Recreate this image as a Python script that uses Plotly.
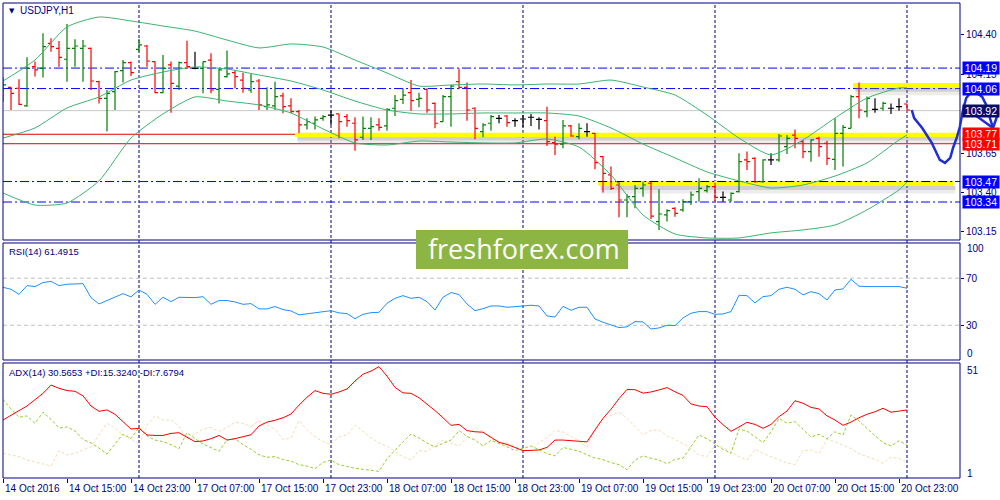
import plotly.graph_objects as go

# USDJPY H1, 14 Oct 07:00 .. 21 Oct 00:00 (one value per hourly bar)
symbol = "USDJPY,H1"
time_ticks = [0, 8, 16, 24, 32, 40, 48, 56, 64, 72, 80, 88, 96, 104, 112]
time_labels = ["14 Oct 2016", "14 Oct 15:00", "14 Oct 23:00", "17 Oct 07:00", "17 Oct 15:00",
               "17 Oct 23:00", "18 Oct 07:00", "18 Oct 15:00", "18 Oct 23:00", "19 Oct 07:00",
               "19 Oct 15:00", "19 Oct 23:00", "20 Oct 07:00", "20 Oct 15:00", "20 Oct 23:00"]
day_breaks = [17, 41, 65, 89, 113]

bar_open = [104.009, 104.068, 104.062, 103.950, 104.199, 104.188, 104.347, 104.315, 104.246, 104.315,
            104.315, 104.315, 104.104, 103.998, 104.040, 104.174, 104.224, 104.309, 104.330, 104.231,
            104.034, 104.210, 104.076, 104.224, 104.188, 104.188, 104.241, 104.055, 104.136, 104.161,
            104.114, 104.051, 104.108, 103.945, 103.950, 104.013, 103.950, 103.914, 103.829, 103.840,
            103.871, 103.892, 103.899, 103.882, 103.840, 103.751, 103.808, 103.829, 103.823, 103.935,
            103.992, 104.034, 103.992, 104.055, 103.966, 103.850, 104.009, 104.104, 104.068, 103.935,
            103.787, 103.840, 103.871, 103.886, 103.856, 103.867, 103.878, 103.865, 103.856, 103.717,
            103.708, 103.823, 103.755, 103.787, 103.776, 103.628, 103.512, 103.448, 103.353, 103.374,
            103.427, 103.459, 103.216, 103.258, 103.300, 103.290, 103.342, 103.406, 103.412, 103.438,
            103.370, 103.353, 103.406, 103.607, 103.617, 103.469, 103.607, 103.607, 103.691, 103.765,
            103.723, 103.660, 103.744, 103.713, 103.611, 103.776, 103.808, 104.009, 103.914, 103.928,
            103.935, 103.935, 103.945, 103.962]
bar_high = [104.131, 104.068, 104.119, 104.258, 104.231, 104.411, 104.379, 104.362, 104.470, 104.373,
            104.368, 104.320, 104.110, 104.051, 104.172, 104.241, 104.231, 104.375, 104.337, 104.231,
            104.273, 104.231, 104.231, 104.364, 104.294, 104.231, 104.284, 104.188, 104.301, 104.174,
            104.161, 104.153, 104.121, 104.068, 104.104, 104.034, 103.998, 103.924, 103.871, 103.882,
            103.892, 103.924, 103.899, 103.899, 103.878, 103.882, 103.878, 103.871, 103.935, 104.019,
            104.062, 104.114, 104.034, 104.062, 103.971, 104.019, 104.083, 104.188, 104.098, 103.941,
            103.840, 103.892, 103.892, 103.892, 103.871, 103.892, 103.899, 103.878, 103.945, 103.755,
            103.861, 103.829, 103.840, 103.840, 103.776, 103.632, 103.565, 103.469, 103.391, 103.448,
            103.469, 103.469, 103.421, 103.294, 103.307, 103.357, 103.406, 103.491, 103.448, 103.463,
            103.406, 103.400, 103.649, 103.660, 103.624, 103.611, 103.649, 103.772, 103.765, 103.801,
            103.734, 103.738, 103.755, 103.729, 103.871, 103.829, 104.019, 104.098, 104.009, 103.998,
            103.977, 103.966, 103.998, 103.962]
bar_low = [103.977, 103.924, 103.956, 103.945, 104.136, 104.131, 104.294, 104.199, 104.104, 104.199,
           104.104, 104.051, 103.966, 103.787, 103.924, 104.098, 104.140, 104.294, 104.199, 104.030,
           104.030, 103.907, 104.051, 104.184, 104.182, 104.030, 104.030, 103.966, 104.131, 104.062,
           104.034, 104.034, 103.924, 103.924, 103.924, 103.903, 103.903, 103.776, 103.801, 103.801,
           103.856, 103.829, 103.744, 103.818, 103.666, 103.734, 103.734, 103.793, 103.793, 103.886,
           103.962, 103.920, 103.941, 103.907, 103.808, 103.850, 103.818, 104.055, 103.856, 103.738,
           103.751, 103.793, 103.840, 103.818, 103.818, 103.814, 103.823, 103.801, 103.696, 103.639,
           103.681, 103.755, 103.738, 103.755, 103.548, 103.400, 103.417, 103.243, 103.243, 103.300,
           103.374, 103.232, 103.163, 103.216, 103.247, 103.279, 103.321, 103.342, 103.400, 103.342,
           103.342, 103.342, 103.400, 103.543, 103.463, 103.463, 103.575, 103.596, 103.645, 103.681,
           103.617, 103.596, 103.628, 103.575, 103.543, 103.565, 103.808, 103.871, 103.878, 103.907,
           103.920, 103.899, 103.920, 103.920]
bar_close = [104.083, 104.030, 103.960, 104.188, 104.178, 104.326, 104.326, 104.258, 104.315, 104.330,
             104.330, 104.108, 103.998, 104.030, 104.167, 104.224, 104.161, 104.337, 104.235, 104.034,
             104.188, 104.093, 104.224, 104.199, 104.188, 104.231, 104.051, 104.178, 104.153, 104.136,
             104.062, 104.104, 103.956, 103.956, 104.009, 103.945, 103.914, 103.829, 103.850, 103.861,
             103.882, 103.892, 103.850, 103.856, 103.734, 103.808, 103.818, 103.814, 103.928, 103.983,
             104.019, 103.983, 103.998, 103.924, 103.840, 104.009, 104.076, 104.068, 103.924, 103.808,
             103.829, 103.882, 103.871, 103.844, 103.856, 103.867, 103.878, 103.865, 103.723, 103.708,
             103.823, 103.759, 103.808, 103.787, 103.590, 103.522, 103.427, 103.353, 103.374, 103.427,
             103.448, 103.251, 103.264, 103.285, 103.268, 103.342, 103.385, 103.427, 103.438, 103.370,
             103.370, 103.395, 103.596, 103.596, 103.469, 103.607, 103.607, 103.759, 103.744, 103.744,
             103.660, 103.734, 103.691, 103.617, 103.776, 103.814, 104.009, 103.924, 103.998, 103.928,
             103.966, 103.935, 103.945, 103.924]

# bollinger bands, read every 4th bar
band_x = [0, 4, 8, 12, 16, 20, 24, 28, 32, 36, 40, 44, 48, 52, 56, 60, 64, 68, 72, 76,
          80, 84, 88, 92, 96, 100, 104, 108, 112, 113]
bb_upper = [104.108, 104.241, 104.451, 104.514, 104.489, 104.457, 104.425, 104.368, 104.318, 104.343,
            104.324, 104.241, 104.159, 104.076, 104.083, 104.089, 104.083, 104.089, 104.089, 104.114,
            104.070, 104.019, 103.892, 103.746, 103.639, 103.734, 103.873, 104.000, 104.064, 104.064]
bb_mid = [103.746, 103.810, 103.937, 104.007, 104.114, 104.165, 104.197, 104.184, 104.146, 104.108,
          104.051, 103.981, 103.924, 103.899, 103.899, 103.905, 103.905, 103.905, 103.886, 103.810,
          103.708, 103.620, 103.531, 103.474, 103.429, 103.448, 103.505, 103.588, 103.734, 103.765]
bb_lower = [103.397, 103.321, 103.334, 103.474, 103.746, 103.899, 104.007, 103.981, 103.956, 103.905,
            103.804, 103.715, 103.702, 103.727, 103.721, 103.715, 103.715, 103.740, 103.689, 103.512,
            103.258, 103.137, 103.112, 103.112, 103.144, 103.163, 103.194, 103.290, 103.417, 103.467]

rsi = [62.3, 60.6, 56.3, 63.7, 62.9, 66.3, 67.4, 63.7, 64.9, 65.4,
       65.4, 53.5, 48.1, 51.0, 54.3, 56.9, 54.1, 60.0, 56.3, 47.8,
       53.8, 50.1, 53.8, 53.5, 53.5, 54.3, 47.8, 51.0, 51.0, 49.8,
       47.8, 48.4, 43.9, 43.9, 45.9, 43.3, 42.2, 38.8, 39.6, 40.5,
       41.3, 42.4, 40.5, 39.9, 35.6, 39.3, 40.7, 41.0, 48.7, 52.9,
       55.2, 52.9, 53.8, 50.1, 43.0, 53.8, 57.8, 56.1, 48.1, 42.4,
       44.1, 46.4, 46.4, 45.3, 45.8, 46.4, 47.0, 46.4, 37.9, 37.0,
       46.1, 42.7, 45.3, 45.3, 35.3, 32.5, 30.0, 28.0, 28.6, 33.1,
       32.8, 26.8, 27.7, 30.0, 29.7, 36.2, 40.2, 41.6, 41.6, 39.3,
       39.6, 41.6, 55.5, 55.2, 49.0, 54.3, 55.2, 60.6, 62.3, 60.6,
       55.8, 58.6, 56.9, 51.5, 60.0, 60.9, 69.1, 63.2, 62.9, 62.9,
       62.9, 62.3, 62.9, 61.49]

adx = [26.2, 28.4, 30.3, 32.3, 34.9, 37.8, 41.4, 40.0, 39.0, 38.7,
       36.7, 32.3, 30.0, 30.6, 28.7, 25.5, 22.3, 22.6, 19.7, 19.5,
       19.5, 20.4, 20.7, 18.7, 16.8, 17.1, 18.1, 19.5, 17.5, 18.1,
       18.8, 19.8, 23.6, 25.3, 26.1, 27.2, 28.8, 32.7, 36.1, 39.0,
       37.8, 37.4, 38.4, 39.7, 43.2, 46.1, 47.5, 49.4, 45.3, 40.4,
       38.0, 37.8, 35.9, 33.3, 30.3, 27.2, 23.9, 24.3, 21.6, 21.1,
       20.9, 18.7, 16.5, 15.6, 14.3, 12.9, 13.0, 13.2, 14.3, 17.5,
       17.5, 17.2, 17.1, 16.7, 21.9, 26.9, 30.9, 35.5, 39.5, 39.4,
       37.9, 38.4, 39.3, 40.3, 38.5, 36.9, 33.2, 32.3, 32.0, 27.4,
       24.2, 21.3, 23.2, 25.2, 24.3, 22.6, 24.3, 27.7, 30.1, 34.6,
       33.5, 31.7, 31.0, 28.0, 26.2, 23.9, 25.3, 27.2, 28.7, 29.8,
       31.3, 29.6, 30.1, 30.57]
plus_di = [35.2, 30.9, 27.4, 28.0, 24.8, 29.6, 26.5, 22.7, 23.2, 21.4,
           17.8, 16.2, 14.0, 11.4, 15.8, 20.1, 18.2, 23.0, 19.3, 17.5,
           16.8, 15.5, 13.8, 20.7, 18.1, 15.8, 14.2, 12.6, 17.5, 18.1,
           15.5, 13.5, 11.1, 10.0, 10.3, 9.0, 8.3, 6.8, 6.2, 5.1,
           7.8, 8.8, 6.8, 5.9, 5.2, 4.8, 4.5, 3.9, 9.4, 13.2,
           16.7, 20.1, 18.4, 16.2, 14.5, 16.1, 17.5, 21.6, 19.1, 17.5,
           14.9, 17.4, 16.1, 14.6, 12.9, 13.9, 14.9, 13.3, 11.6, 10.6,
           14.3, 13.5, 12.6, 11.1, 9.7, 9.0, 7.7, 6.8, 4.6, 8.8,
           10.6, 9.6, 8.8, 7.2, 9.1, 9.6, 14.9, 19.7, 18.1, 15.8,
           13.5, 11.7, 22.3, 21.4, 18.7, 16.4, 21.1, 26.9, 24.8, 25.5,
           22.2, 18.8, 20.0, 18.1, 21.1, 19.7, 28.4, 25.8, 22.5, 19.6,
           16.4, 14.9, 17.2, 15.32]
minus_di = [11.7, 11.0, 10.3, 8.8, 8.1, 7.1, 6.2, 12.9, 11.0, 11.7,
            13.2, 14.6, 19.7, 24.8, 22.6, 19.7, 18.2, 15.3, 24.0, 28.0,
            26.2, 26.2, 23.6, 18.1, 20.1, 22.3, 23.0, 21.3, 22.9, 25.2,
            24.8, 23.3, 25.9, 24.0, 22.2, 17.8, 18.4, 25.9, 21.9, 19.0,
            16.8, 15.6, 19.0, 19.7, 23.9, 21.4, 18.4, 16.2, 14.9, 12.5,
            10.3, 8.8, 12.9, 12.6, 15.2, 17.5, 16.1, 14.9, 18.7, 23.0,
            21.3, 18.2, 16.8, 16.2, 14.6, 12.6, 13.0, 16.4, 18.5, 21.7,
            21.0, 19.0, 17.1, 14.3, 22.6, 26.8, 28.2, 29.5, 26.9, 23.3,
            19.8, 21.7, 21.9, 19.3, 17.8, 15.9, 14.0, 11.0, 10.3, 15.3,
            14.3, 12.3, 10.3, 8.8, 13.5, 11.7, 10.3, 9.1, 7.5, 6.8,
            12.9, 13.2, 11.7, 17.9, 16.8, 15.2, 13.8, 11.6, 10.3, 9.1,
            7.4, 10.0, 9.6, 7.68]

# drawn objects
blue_levels = [104.19, 104.06, 103.47, 103.34]
red_levels = [103.77, 103.71]
bid = 103.92
# yellow zones: start bar, end bar, top price, bottom price
zones = [(36.5, 119.7, 103.779, 103.752),
         (74.4, 118.75, 103.474, 103.442),
         (106.25, 119.7, 104.095, 104.064)]
# freehand forecast stroke (bar, price)
freehand = [(113.6, 103.924), (113.9, 103.873), (114.9, 103.810), (116.1, 103.715), (117.1, 103.607),
            (117.75, 103.588), (118.4, 103.620), (118.75, 103.683), (119.25, 103.753), (119.6, 103.816),
            (120.0, 103.924), (120.4, 104.000), (120.9, 104.032), (121.75, 104.032), (122.4, 104.007),
            (122.9, 103.956), (123.25, 103.892), (123.75, 103.810)]
arrow_head = [(121.5, 103.892), (123.75, 103.810), (124.4, 103.905)]

NAVY = "#000080"
FONT = "Liberation Sans, Arial, sans-serif"

x_range = [0, 119.625]
main_range = [103.099, 104.603]
main_dom = [0.50105, 1.0]
rsi_dom = [0.24842, 0.49474]
adx_dom = [0.0, 0.24211]


def to_paper(bar, price):
    px = (bar - x_range[0]) / (x_range[1] - x_range[0])
    py = main_dom[0] + (price - main_range[0]) / (main_range[1] - main_range[0]) * (main_dom[1] - main_dom[0])
    return px, py


def pix_y(y):
    return (478 - y) / 475


idx = list(range(len(bar_open)))

fig = go.Figure()

# split bars by direction so dojis stay black
groups = {"up": ([], "#008000"), "down": ([], "#ff0000"), "flat": ([], "#000000")}
for i in idx:
    if bar_close[i] > bar_open[i]:
        groups["up"][0].append(i)
    elif bar_close[i] < bar_open[i]:
        groups["down"][0].append(i)
    else:
        groups["flat"][0].append(i)

for name, (ids, col) in groups.items():
    fig.add_trace(go.Ohlc(
        x=ids,
        open=[bar_open[i] for i in ids], high=[bar_high[i] for i in ids],
        low=[bar_low[i] for i in ids], close=[bar_close[i] for i in ids],
        increasing=dict(line=dict(color=col, width=1.2)),
        decreasing=dict(line=dict(color=col, width=1.2)),
        tickwidth=0.38, xaxis="x", yaxis="y", hoverinfo="skip"))

for band in (bb_upper, bb_mid, bb_lower):
    fig.add_trace(go.Scatter(x=band_x, y=band, mode="lines", xaxis="x", yaxis="y",
                             line=dict(color="#3cb371", width=1, shape="spline", smoothing=0.6),
                             hoverinfo="skip"))

fig.add_trace(go.Scatter(x=idx, y=rsi, mode="lines", xaxis="x", yaxis="y2",
                         line=dict(color="#1e90ff", width=1)))
fig.add_trace(go.Scatter(x=idx, y=minus_di, mode="lines", xaxis="x", yaxis="y3",
                         line=dict(color="#f5deb3", width=1, dash="3px,2px")))
fig.add_trace(go.Scatter(x=idx, y=plus_di, mode="lines", xaxis="x", yaxis="y3",
                         line=dict(color="#9acd32", width=1, dash="3px,2px")))
fig.add_trace(go.Scatter(x=idx, y=adx, mode="lines", xaxis="x", yaxis="y3",
                         line=dict(color="#ff0000", width=1)))

shapes = []
# day separators
for d in day_breaks:
    shapes.append(dict(type="line", xref="x", yref="paper", x0=d, x1=d, y0=0, y1=1, layer="below",
                       line=dict(color=NAVY, width=1, dash="3px,2px")))
# yellow zones with a soft shadow under them
for x0, x1, top, bot in zones:
    h = top - bot
    shapes.append(dict(type="rect", xref="x", yref="y", x0=x0 + 0.3, x1=x1 + 0.3, y0=bot - h * 0.8, y1=bot,
                       fillcolor="rgba(120,120,120,0.35)", line=dict(width=0), layer="below"))
    shapes.append(dict(type="rect", xref="x", yref="y", x0=x0 + 0.3, x1=x1 + 0.3, y0=bot - h * 1.5, y1=bot - h * 0.8,
                       fillcolor="rgba(170,170,170,0.22)", line=dict(width=0), layer="below"))
    shapes.append(dict(type="rect", xref="x", yref="y", x0=x0, x1=x1, y0=bot, y1=top,
                       fillcolor="#ffff00", line=dict(width=0), layer="below"))
shapes.append(dict(type="line", xref="x domain", yref="y", x0=0, x1=1, y0=bid, y1=bid, layer="below",
                   line=dict(color="#c8c8c8", width=1)))
for lv in blue_levels:
    shapes.append(dict(type="line", xref="x domain", yref="y", x0=0, x1=1, y0=lv, y1=lv, layer="below",
                       line=dict(color="#0000ff", width=1, dash="9px,3px,2px,3px")))
shapes.append(dict(type="line", xref="x", yref="y", x0=zones[1][0], x1=zones[1][1], y0=103.47, y1=103.47,
                   layer="below", line=dict(color="#000000", width=1, dash="9px,3px,2px,3px")))
for lv in red_levels:
    shapes.append(dict(type="line", xref="x domain", yref="y", x0=0, x1=1, y0=lv, y1=lv, layer="below",
                       line=dict(color="#e00000", width=1)))
# rsi levels
for lv in (70, 30):
    shapes.append(dict(type="line", xref="x domain", yref="y2", x0=0, x1=1, y0=lv, y1=lv, layer="below",
                       line=dict(color="#c0c0c0", width=1, dash="4px,3px")))
# panel borders
for dom in (main_dom, rsi_dom, adx_dom):
    shapes.append(dict(type="rect", xref="paper", yref="paper", x0=0, x1=1, y0=dom[0], y1=dom[1],
                       line=dict(color=NAVY, width=1), fillcolor="rgba(0,0,0,0)", layer="above"))

# freehand stroke
pts = [to_paper(b, p) for b, p in freehand]
path = "M " + " L ".join(f"{a:.4f},{b:.4f}" for a, b in pts)
shapes.append(dict(type="path", xref="paper", yref="paper", path=path, layer="above",
                   line=dict(color="#1f2fd6", width=2.5)))
pts = [to_paper(b, p) for b, p in arrow_head]
path = "M " + " L ".join(f"{a:.4f},{b:.4f}" for a, b in pts)
shapes.append(dict(type="path", xref="paper", yref="paper", path=path, layer="above",
                   line=dict(color="#1f2fd6", width=2.5)))

# watermark
shapes.append(dict(type="rect", xref="paper", yref="paper", x0=(416 - 3) / 957, x1=(628 - 3) / 957,
                   y0=pix_y(269), y1=pix_y(230), fillcolor="#8db543", line=dict(width=0), layer="above"))

annotations = []
for t, lab in zip(time_ticks, time_labels):
    annotations.append(dict(x=t, xref="x", y=0, yref="paper", text=lab, showarrow=False,
                            xanchor="left", yanchor="top", xshift=0, yshift=-3,
                            font=dict(family=FONT, size=10, color=NAVY)))

level_boxes = [(104.19, "#0000ff"), (104.06, "#0000ff"), (bid, "#0c0c66"), (103.77, "#ff0000"),
               (103.71, "#ff0000"), (103.47, "#0000ff"), (103.34, "#0000ff")]
for lv, col in level_boxes:
    annotations.append(dict(x=1, xref="paper", y=lv, yref="y", text=f"{lv:.2f}", showarrow=False,
                            xanchor="left", yanchor="middle", xshift=2, bgcolor=col, width=36, height=12,
                            borderpad=0, font=dict(family=FONT, size=10.5, color="white")))

for txt, yy in (("100", 249), ("0", 353), ("51", 370), ("1", 473)):
    annotations.append(dict(x=1, xref="paper", y=pix_y(yy), yref="paper", text=txt, showarrow=False,
                            xanchor="left", yanchor="middle", xshift=5,
                            font=dict(family=FONT, size=10, color=NAVY)))

annotations.append(dict(x=4 / 957, xref="paper", y=pix_y(11), yref="paper", text="▼", showarrow=False,
                        xanchor="left", yanchor="middle", font=dict(family="DejaVu Sans", size=7, color=NAVY)))
annotations.append(dict(x=15 / 957, xref="paper", y=pix_y(11), yref="paper", text=symbol, showarrow=False,
                        xanchor="left", yanchor="middle", font=dict(family=FONT, size=10, color=NAVY)))
annotations.append(dict(x=4 / 957, xref="paper", y=pix_y(251), yref="paper",
                        text=f"RSI(14) {rsi[-1] + 0.0015:.4f}", showarrow=False,
                        xanchor="left", yanchor="middle", font=dict(family=FONT, size=9.5, color=NAVY)))
annotations.append(dict(x=4 / 957, xref="paper", y=pix_y(372), yref="paper",
                        text="ADX(14) 30.5653 +DI:15.3240 -DI:7.6794", showarrow=False,
                        xanchor="left", yanchor="middle", font=dict(family=FONT, size=9.5, color=NAVY)))
annotations.append(dict(x=(524 - 3) / 957, xref="paper", y=pix_y(248), yref="paper", text="freshforex.com",
                        showarrow=False, yanchor="middle", font=dict(family="Open Sans", size=27, color="white")))

axis_font = dict(family=FONT, size=10, color=NAVY)
fig.update_layout(
    width=1000, height=500, autosize=False,
    margin=dict(l=3, r=40, t=3, b=22),
    paper_bgcolor="white", plot_bgcolor="rgba(0,0,0,0)",
    showlegend=False,
    shapes=shapes, annotations=annotations,
    xaxis=dict(range=x_range, anchor="y3", showgrid=False, zeroline=False, showline=False,
               tickvals=time_ticks, showticklabels=False, ticks="outside", ticklen=4,
               tickcolor=NAVY, rangeslider=dict(visible=False)),
    yaxis=dict(domain=main_dom, range=main_range, side="right", anchor="x", showgrid=False,
               zeroline=False, tickvals=[104.40, 104.15, 103.90, 103.65, 103.40, 103.15],
               ticktext=["104.40", "104.15", "103.90", "103.65", "103.40", "103.15"],
               ticks="outside", ticklen=3, tickcolor=NAVY, tickfont=axis_font),
    yaxis2=dict(domain=rsi_dom, range=[0.4, 100], side="right", anchor="x", showgrid=False,
                zeroline=False, tickvals=[70, 30], ticktext=["70", "30"],
                ticks="outside", ticklen=3, tickcolor=NAVY, tickfont=axis_font),
    yaxis3=dict(domain=adx_dom, range=[1, 51], side="right", anchor="x", showgrid=False,
                zeroline=False, tickvals=[], ticks="", tickfont=axis_font),
)

# the page's default body margin would push the 1000x500 figure off the window
fig.write_html("out.html", config={"displayModeBar": False},
               post_script="document.body.style.margin='0px';")
